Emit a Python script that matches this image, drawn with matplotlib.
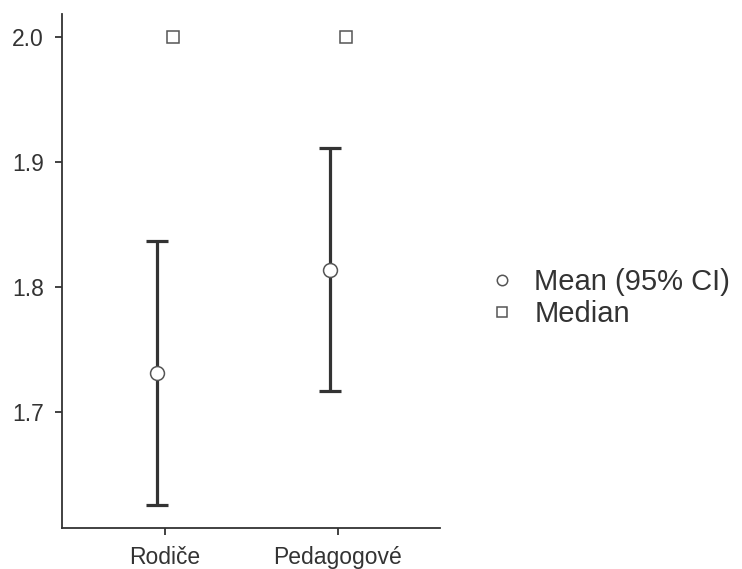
import matplotlib
matplotlib.use("Agg")
import matplotlib.pyplot as plt
from matplotlib.lines import Line2D

plt.rcParams['font.family'] = ['Liberation Sans', 'DejaVu Sans']

categories = ["Rodiče", "Pedagogové"]
means = [1.731, 1.814]
ci_low = [1.626, 1.717]
ci_high = [1.837, 1.911]
medians = [2.0, 2.0]
yticks = [1.7, 1.8, 1.9, 2.0]

fig = plt.figure(figsize=(7.42, 5.69), dpi=100)
ax = fig.add_axes([62/742, 41/569, 378/742, 514/569])

x = list(range(1, len(categories) + 1))
off = 0.046
xe = [v - off for v in x]
xm = [v + off for v in x]
yerr = [[m - l for m, l in zip(means, ci_low)], [h - m for m, h in zip(means, ci_high)]]

ax.errorbar(xe, means, yerr=yerr, fmt='none', ecolor='#333333', elinewidth=2.3,
            capsize=8, capthick=2.3, zorder=2)
ax.plot(xe, means, 'o', markersize=10, markerfacecolor='white',
        markeredgecolor='#555555', markeredgewidth=1.1, zorder=3)
ax.plot(xm, medians, 's', markersize=8.5, markerfacecolor='white',
        markeredgecolor='#555555', markeredgewidth=1.1, zorder=3)

ax.set_xlim(0.405, 2.59)
ax.set_ylim(1.6072, 2.0184)
ax.set_xticks(x)
ax.set_xticklabels(categories)
ax.set_yticks(yticks)
ax.set_yticklabels([f"{v:.1f}" for v in yticks])

for s in ['top', 'right']:
    ax.spines[s].set_visible(False)
for s in ['left', 'bottom']:
    ax.spines[s].set_color('#333333')
    ax.spines[s].set_linewidth(1.3)
ax.tick_params(axis='both', colors='#333333', labelcolor='#333333',
               labelsize=16.5, width=1.3, length=5)
ax.tick_params(axis='y', pad=8)
ax.tick_params(axis='x', pad=8)

handles = [
    Line2D([], [], linestyle='none', marker='o', markersize=7.5, markerfacecolor='white',
           markeredgecolor='#555555', markeredgewidth=1.1, label='Mean (95% CI)'),
    Line2D([], [], linestyle='none', marker='s', markersize=6.5, markerfacecolor='white',
           markeredgecolor='#555555', markeredgewidth=1.1, label='Median'),
]
leg = fig.legend(handles=handles, loc='center left', bbox_to_anchor=(495/742, 1 - 298/569),
                 frameon=False, fontsize=21, handlelength=0.5, handletextpad=0.85,
                 labelspacing=0.15, borderaxespad=0, borderpad=0)
for t in leg.get_texts():
    t.set_color('#333333')

fig.savefig("out.png", dpi=100)
